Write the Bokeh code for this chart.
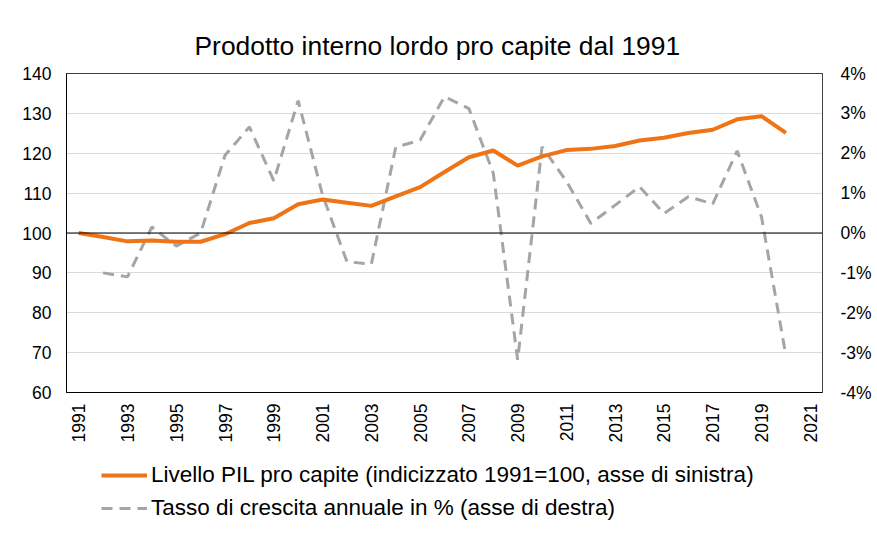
import math
from bokeh.plotting import figure
from bokeh.layouts import column
from bokeh.models import (Range1d, LinearAxis, FixedTicker, PrintfTickFormatter,
                          Span, Legend, LegendItem)
from bokeh.embed import file_html
from bokeh.resources import INLINE

# ---- data ----
years = list(range(1991, 2021))
pil_level = [100.0, 99.0, 97.9, 98.1, 97.8, 97.8, 99.7, 102.5, 103.7, 107.2,
             108.4, 107.6, 106.8, 109.2, 111.5, 115.3, 119.0, 120.7, 116.9, 119.2,
             120.8, 121.1, 121.8, 123.2, 123.9, 125.1, 125.9, 128.5, 129.3, 125.1]
growth_years = list(range(1992, 2021))
growth_pct = [-1.0, -1.1, 0.15, -0.33, 0.0, 1.95, 2.66, 1.31, 3.32, 0.95,
              -0.72, -0.78, 2.15, 2.33, 3.42, 3.12, 1.5, -3.18, 2.16, 1.3,
              0.24, 0.7, 1.16, 0.49, 0.91, 0.73, 2.06, 0.4, -3.08]
x_ticks = list(range(1991, 2022, 2))
left_ticks = list(range(60, 141, 10))
right_ticks = list(range(-4, 5, 1))

title_text = "Prodotto interno lordo pro capite dal 1991"
label_pil = "Livello PIL pro capite (indicizzato 1991=100, asse di sinistra)"
label_growth = "Tasso di crescita annuale in % (asse di destra)"

FONT = "Liberation Sans"
ORANGE = "#ef7415"
GREY = "#a5a5a5"
W_LEFT, W_FRAME, W_RIGHT = 66, 756, 46

p = figure(frame_width=W_FRAME, frame_height=319,
           min_border_left=W_LEFT, min_border_right=W_RIGHT,
           min_border_top=73, min_border_bottom=50,
           x_range=Range1d(1990.5, 2021.5), y_range=Range1d(60, 140),
           output_backend="svg", toolbar_location=None,
           title=title_text)

p.extra_y_ranges = {"pct": Range1d(-4, 4)}

# title
p.title.text_font = FONT
p.title.text_font_size = "26.4px"
p.title.text_font_style = "normal"
p.title.text_color = "#000000"
p.title.align = "left"
p.title.offset = 128
p.title.standoff = 26

# frame
p.outline_line_color = "#404040"
p.outline_line_width = 1
p.background_fill_color = "white"
p.border_fill_color = "white"

# grids
p.xgrid.visible = False
p.ygrid.ticker = FixedTicker(ticks=left_ticks)
p.ygrid.grid_line_color = "#d9d9d9"
p.ygrid.grid_line_width = 1

# axes
for ax in (p.xaxis[0], p.yaxis[0]):
    ax.axis_line_color = "#000000"
    ax.major_tick_line_color = None
    ax.minor_tick_line_color = None
    ax.major_tick_out = 0
    ax.major_tick_in = 0
    ax.major_label_text_font = FONT
    ax.major_label_text_font_size = "17.5px"
    ax.major_label_text_color = "#000000"

p.xaxis.ticker = FixedTicker(ticks=x_ticks)
p.xaxis.major_label_orientation = math.pi / 2
p.xaxis.major_label_standoff = 11

p.yaxis.ticker = FixedTicker(ticks=left_ticks)
p.yaxis.major_label_standoff = 15

raxis = LinearAxis(y_range_name="pct", ticker=FixedTicker(ticks=right_ticks),
                   formatter=PrintfTickFormatter(format="%d%%"))
raxis.axis_line_color = "#404040"
raxis.major_tick_line_color = None
raxis.minor_tick_line_color = None
raxis.major_tick_out = 0
raxis.major_tick_in = 0
raxis.major_label_standoff = 18
raxis.major_label_text_font = FONT
raxis.major_label_text_font_size = "17.5px"
raxis.major_label_text_color = "#000000"
p.add_layout(raxis, "right")

# zero / 100 line
p.add_layout(Span(location=100, dimension="width", line_color="#000000", line_width=1))

# series
r_growth = p.line(growth_years, growth_pct, y_range_name="pct",
                  line_color=GREY, line_width=3, line_dash="11 7")
r_pil = p.line(years, pil_level, line_color=ORANGE, line_width=4)

# ---- legend strip (separate figure below the chart) ----
p2 = figure(width=W_LEFT + W_FRAME + W_RIGHT, height=100,
            min_border=0, x_range=Range1d(0, 1), y_range=Range1d(0, 1),
            x_axis_location=None, y_axis_location=None,
            output_backend="svg", toolbar_location=None)
p2.grid.visible = False
p2.outline_line_color = None
p2.background_fill_color = "white"
p2.border_fill_color = "white"
# proxy renderers (kept outside the visible range) used only for the legend keys
l1 = p2.line([-10, -9], [-10, -10], line_color=ORANGE, line_width=4)
l2 = p2.line([-10, -9], [-10, -10], line_color=GREY, line_width=3, line_dash="11 7")

legend = Legend(items=[LegendItem(label=label_pil, renderers=[l1]),
                       LegendItem(label=label_growth, renderers=[l2])],
                location=(35, 24), orientation="vertical",
                padding=0, margin=0, spacing=7,
                glyph_width=46, glyph_height=26, label_height=26,
                label_standoff=4,
                label_text_font=FONT, label_text_font_size="22.5px",
                label_text_color="#000000",
                border_line_alpha=0, background_fill_alpha=0)
p2.add_layout(legend, "center")

layout = column(p, p2, spacing=0)
open("out.html", "w").write(file_html(layout, INLINE))
